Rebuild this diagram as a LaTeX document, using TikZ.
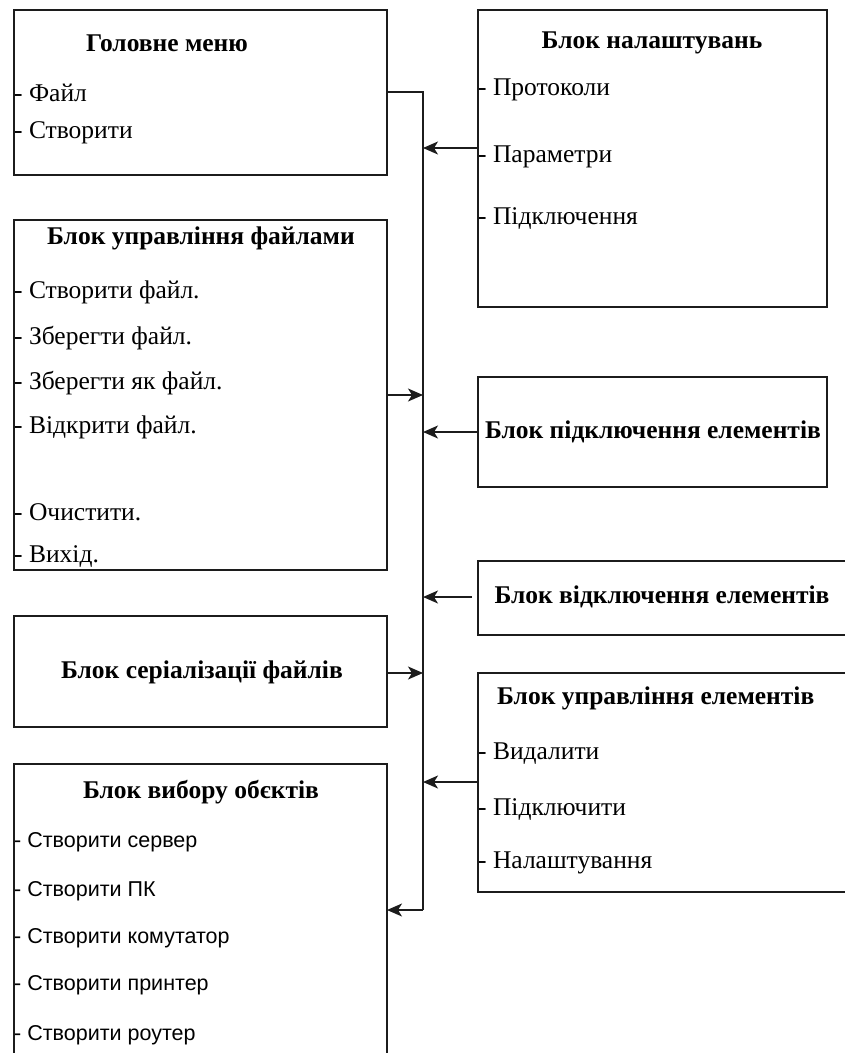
\documentclass[tikz,border=0pt]{standalone}
\usepackage{fontspec}
\setmainfont{Liberation Serif}
\setsansfont{Liberation Sans}
\usepackage{tikz}
\usetikzlibrary{arrows.meta,calc,positioning}
\definecolor{frame}{HTML}{1C1C1C}

\begin{document}
\begin{tikzpicture}[x=1pt,y=-1pt,>={Stealth[length=15pt,width=13pt,inset=4pt]},
  blk/.style={draw=frame,line width=1.6pt,inner sep=0pt,outer sep=0pt},
  head/.style={inner sep=0pt,font=\fontsize{25.5}{28}\selectfont\bfseries},
  item/.style={inner sep=0pt,anchor=west,font=\fontsize{25.5}{28}\selectfont},
  sitem/.style={inner sep=0pt,anchor=west,font=\sffamily\fontsize{21.5}{24}\selectfont},
  link/.style={->,line width=1.4pt,draw=frame}]
\clip (0,0) rectangle (845,1053);
% boxes
\node[blk,minimum width=373pt,minimum height=165pt] (menu) at (200.5,92.5) {};
\node[blk,minimum width=349pt,minimum height=297pt] (settings) at (652.5,158.5) {};
\node[blk,minimum width=373pt,minimum height=350pt] (files) at (200.5,395) {};
\node[blk,minimum width=349pt,minimum height=110pt] (connect) at (652.5,432) {};
\node[blk,minimum width=400pt,minimum height=74pt] (disconnect) at (678,598) {};
\node[blk,minimum width=373pt,minimum height=111pt] (serial) at (200.5,671.5) {};
\node[blk,minimum width=400pt,minimum height=219pt] (elements) at (678,782.5) {};
\node[blk,minimum width=373pt,minimum height=336pt] (objects) at (200.5,932) {};
% texts
\node[head] (menuT) at (167,43) {Головне меню};
\node[item] (menu1) at (14,93) {- Файл};
\node[item] (menu2) at (14,133) {- Створити};
\node[head] (settingsT) at (652,43) {Блок налаштувань};
\node[item] (set1) at (478,90) {- Протоколи};
\node[item] (set2) at (478,157) {- Параметри};
\node[item] (set3) at (478,219) {- Підключення};
\node[head] (filesT) at (201,238) {Блок управління файлами};
\node[item] (file1) at (14,292) {- Створити файл.};
\node[item] (file2) at (14,338) {- Зберегти файл.};
\node[item] (file3) at (14,383) {- Зберегти як файл.};
\node[item] (file4) at (14,427) {- Відкрити файл.};
\node[item] (file5) at (14,512) {- Очистити.};
\node[item] (file6) at (14,557) {- Вихід.};
\node[head] (connectT) at (653,432) {Блок підключення елементів};
\node[head] (disconnectT) at (662,597) {Блок відключення елементів};
\node[head] (serialT) at (202,672) {Блок серіалізації файлів};
\node[head,anchor=west] (elementsT) at (497,698) {Блок управління елементів};
\node[item] (el1) at (478,754) {- Видалити};
\node[item] (el2) at (478,810) {- Підключити};
\node[item] (el3) at (478,863) {- Налаштування};
\node[head] (objectsT) at (201,792) {Блок вибору обєктів};
\node[sitem] (obj1) at (14,842) {- Створити сервер};
\node[sitem] (obj2) at (14,891) {- Створити ПК};
\node[sitem] (obj3) at (14,938) {- Створити комутатор};
\node[sitem] (obj4) at (14,985) {- Створити принтер};
\node[sitem] (obj5) at (14,1035) {- Створити роутер};
% bus
\coordinate (top) at (423,92);
\coordinate (bot) at (423,910);
\draw[frame,line width=1.1pt] (menu.east |- top) -- (top) -- (bot);
\draw[link] (settings.west |- 0,148) -- (top |- 0,148);
\draw[link] (files.east |- 0,395) -- (top |- 0,395);
\draw[link] (connect.west |- 0,432) -- (top |- 0,432);
\draw[link,shorten <=6pt] (disconnect.west |- 0,597) -- (top |- 0,597);
\draw[link] (serial.east |- 0,673) -- (top |- 0,673);
\draw[link] (elements.west |- 0,782) -- (top |- 0,782);
\draw[link] (bot) -- (objects.east |- bot);
\end{tikzpicture}
\end{document}
